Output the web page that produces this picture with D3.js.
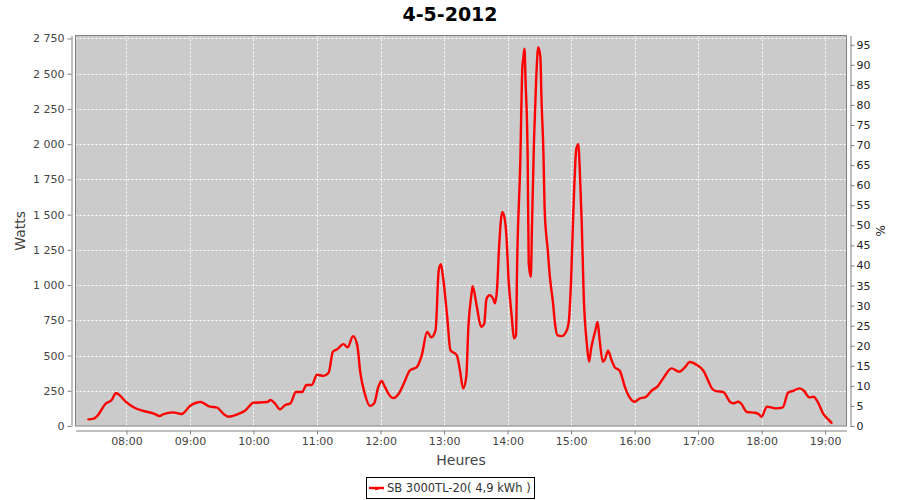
<!DOCTYPE html>
<html><head><meta charset="utf-8">
<script src="https://cdn.jsdelivr.net/npm/d3@7"></script>
<style>
html,body{margin:0;padding:0;background:#fff;}
svg{display:block;font-family:"DejaVu Sans",sans-serif;}
</style></head>
<body><svg id="c" width="900" height="500"></svg>
<script>
const title = "4-5-2012";
const seriesName = "SB 3000TL-20( 4,9 kWh )";
const times = ["7:24","7:29","7:33","7:40","7:46","7:50","7:53","7:59","8:08","8:15","8:27","8:31","8:35","8:44","8:52","9:00","9:10","9:19","9:25","9:33","9:36","9:47","9:52","10:00","10:08","10:13","10:16","10:20","10:25","10:30","10:35","10:40","10:46","10:50","10:55","11:00","11:06","11:11","11:15","11:19","11:25","11:29","11:34","11:38","11:41","11:45","11:50","11:54","11:58","12:01","12:04","12:09","12:12","12:17","12:22","12:28","12:34","12:39","12:44","12:48","12:52","12:55","12:57","12:59","13:03","13:06","13:12","13:15","13:18","13:21","13:23","13:26","13:27","13:31","13:35","13:38","13:40","13:43","13:47","13:48","13:50","13:52","13:55","13:57","13:59","14:01","14:04","14:06","14:08","14:09","14:12","14:14","14:15","14:16","14:17","14:19","14:20","14:22","14:23","14:25","14:27","14:29","14:31","14:32","14:34","14:35","14:38","14:40","14:43","14:45","14:47","14:51","14:56","14:58","15:00","15:02","15:05","15:07","15:08","15:10","15:12","15:15","15:17","15:19","15:23","15:25","15:27","15:30","15:32","15:35","15:38","15:41","15:46","15:51","15:54","16:00","16:05","16:10","16:16","16:22","16:27","16:35","16:42","16:48","16:52","16:59","17:05","17:10","17:13","17:17","17:24","17:30","17:33","17:38","17:41","17:46","17:54","17:57","18:00","18:05","18:09","18:14","18:20","18:25","18:30","18:36","18:40","18:45","18:49","18:53","18:58","19:03","19:06"];
const watts = [47,52,76,156,184,232,222,175,128,109,85,71,85,97,85,142,170,137,132,78,66,90,109,165,168,170,184,163,118,149,161,241,241,291,291,364,356,378,527,544,581,558,638,574,373,232,142,161,279,319,279,213,198,227,302,397,416,503,668,629,680,1106,1148,1058,775,539,503,397,267,349,704,940,992,846,704,728,898,928,893,870,964,1271,1519,1483,1342,1035,775,622,645,1129,1862,2547,2618,2677,2452,1909,1153,1058,1389,2027,2452,2688,2618,2334,1909,1543,1247,1058,870,716,645,638,680,751,1035,1483,1968,1999,1862,1460,916,574,456,551,680,739,610,456,473,534,473,420,392,274,220,172,196,203,250,283,338,409,385,420,454,432,392,314,267,248,241,172,161,172,156,99,94,85,66,137,132,125,132,236,250,267,250,203,208,172,90,47,23];
const hourTicks = ["08:00","09:00","10:00","11:00","12:00","13:00","14:00","15:00","16:00","17:00","18:00","19:00"];
const wattTicks = [0,250,500,750,1000,1250,1500,1750,2000,2250,2500,2750];
const pctTicks = [0,5,10,15,20,25,30,35,40,45,50,55,60,65,70,75,80,85,90,95];
const timeRange = ["7:11:51","19:20:12"];
const wattMax = 2771, pctMax = 97.3;

const parse = s => { const p = s.split(":").map(Number); return new Date(2012,4,4,p[0],p[1],p[2]||0); };
const data = times.map((t,i)=>({t:parse(t), w:watts[i]}));

const L=75.5, R=846.5, T=35.5, B=426;
const svg = d3.select("#c");
const x = d3.scaleTime().domain(timeRange.map(parse)).range([L,R]);
const y = d3.scaleLinear().domain([0,wattMax]).range([B,T]);
const yR = d3.scaleLinear().domain([0,pctMax]).range([B,T]);

// title
svg.append("text").attr("x",450).attr("y",21).attr("text-anchor","middle")
  .attr("font-size",19).attr("font-weight","bold").attr("fill","#000").text(title);

// plot bg
svg.append("rect").attr("x",L).attr("y",T).attr("width",R-L).attr("height",B-T).attr("fill","#cbcbcb");

// grid
const g = svg.append("g").attr("stroke","#fff").attr("stroke-width",1).attr("stroke-dasharray","2,2");
hourTicks.forEach(h=>{ const xx=Math.round(x(parse(h)))+0.5;
  g.append("line").attr("x1",xx).attr("x2",xx).attr("y1",T).attr("y2",B);});
wattTicks.forEach(v=>{ if(v===0) return; const yy=Math.round(y(v))+0.5;
  g.append("line").attr("x1",L).attr("x2",R).attr("y1",yy).attr("y2",yy);});

// line
const line = d3.line().x(d=>x(d.t)).y(d=>y(d.w)).curve(d3.curveMonotoneX);
svg.append("path").datum(data).attr("d",line).attr("fill","none")
  .attr("stroke","#ff0000").attr("stroke-width",2.4).attr("stroke-linejoin","round").attr("stroke-linecap","round");

// outline
svg.append("rect").attr("x",L).attr("y",T).attr("width",R-L).attr("height",B-T)
  .attr("fill","none").attr("stroke","#808080").attr("stroke-width",1);

const fmt = v => d3.format(",")(v).replace(/,/g," ");
function styleAxis(sel, col){
  sel.selectAll(".domain").attr("stroke","#808080");
  sel.selectAll(".tick line").attr("stroke","#808080");
  sel.selectAll(".tick text").attr("fill",col).attr("font-size",11).attr("font-family","DejaVu Sans, sans-serif");
}
const ax1 = svg.append("g").attr("transform","translate(71.5,0)")
  .call(d3.axisLeft(y).tickValues(wattTicks).tickSize(4).tickSizeOuter(0).tickPadding(3).tickFormat(fmt));
styleAxis(ax1,"#444");
const ax2 = svg.append("g").attr("transform","translate(850.5,0)")
  .call(d3.axisRight(yR).tickValues(pctTicks).tickSize(4).tickSizeOuter(0).tickPadding(2));
styleAxis(ax2,"#222");
const ax3 = svg.append("g").attr("transform","translate(0,430.5)")
  .call(d3.axisBottom(x).tickValues(hourTicks.map(parse)).tickSize(4).tickSizeOuter(0).tickPadding(3).tickFormat(d3.timeFormat("%H:%M")));
styleAxis(ax3,"#444");

// axis labels
svg.append("text").attr("transform",`translate(25,${(T+B)/2}) rotate(-90)`).attr("text-anchor","middle")
  .attr("font-size",14).attr("fill","#444").text("Watts");
svg.append("text").attr("transform",`translate(885,${(T+B)/2}) rotate(-90)`).attr("text-anchor","middle")
  .attr("font-size",12).attr("fill","#222").text("%");
svg.append("text").attr("x",(L+R)/2).attr("y",465).attr("text-anchor","middle")
  .attr("font-size",14).attr("fill","#444").text("Heures");

// legend
const lg = svg.append("g");
lg.append("rect").attr("x",366.5).attr("y",477.5).attr("width",168).attr("height",21).attr("fill","#fff").attr("stroke","#000");
lg.append("line").attr("x1",369).attr("x2",384).attr("y1",488).attr("y2",488).attr("stroke","#ff0000").attr("stroke-width",2.4);
lg.append("rect").attr("x",375).attr("y",487).attr("width",3).attr("height",3).attr("fill","#ff0000");
lg.append("text").attr("x",387).attr("y",492).attr("font-size",11.5).attr("fill","#333").text(seriesName);
</script></body></html>
